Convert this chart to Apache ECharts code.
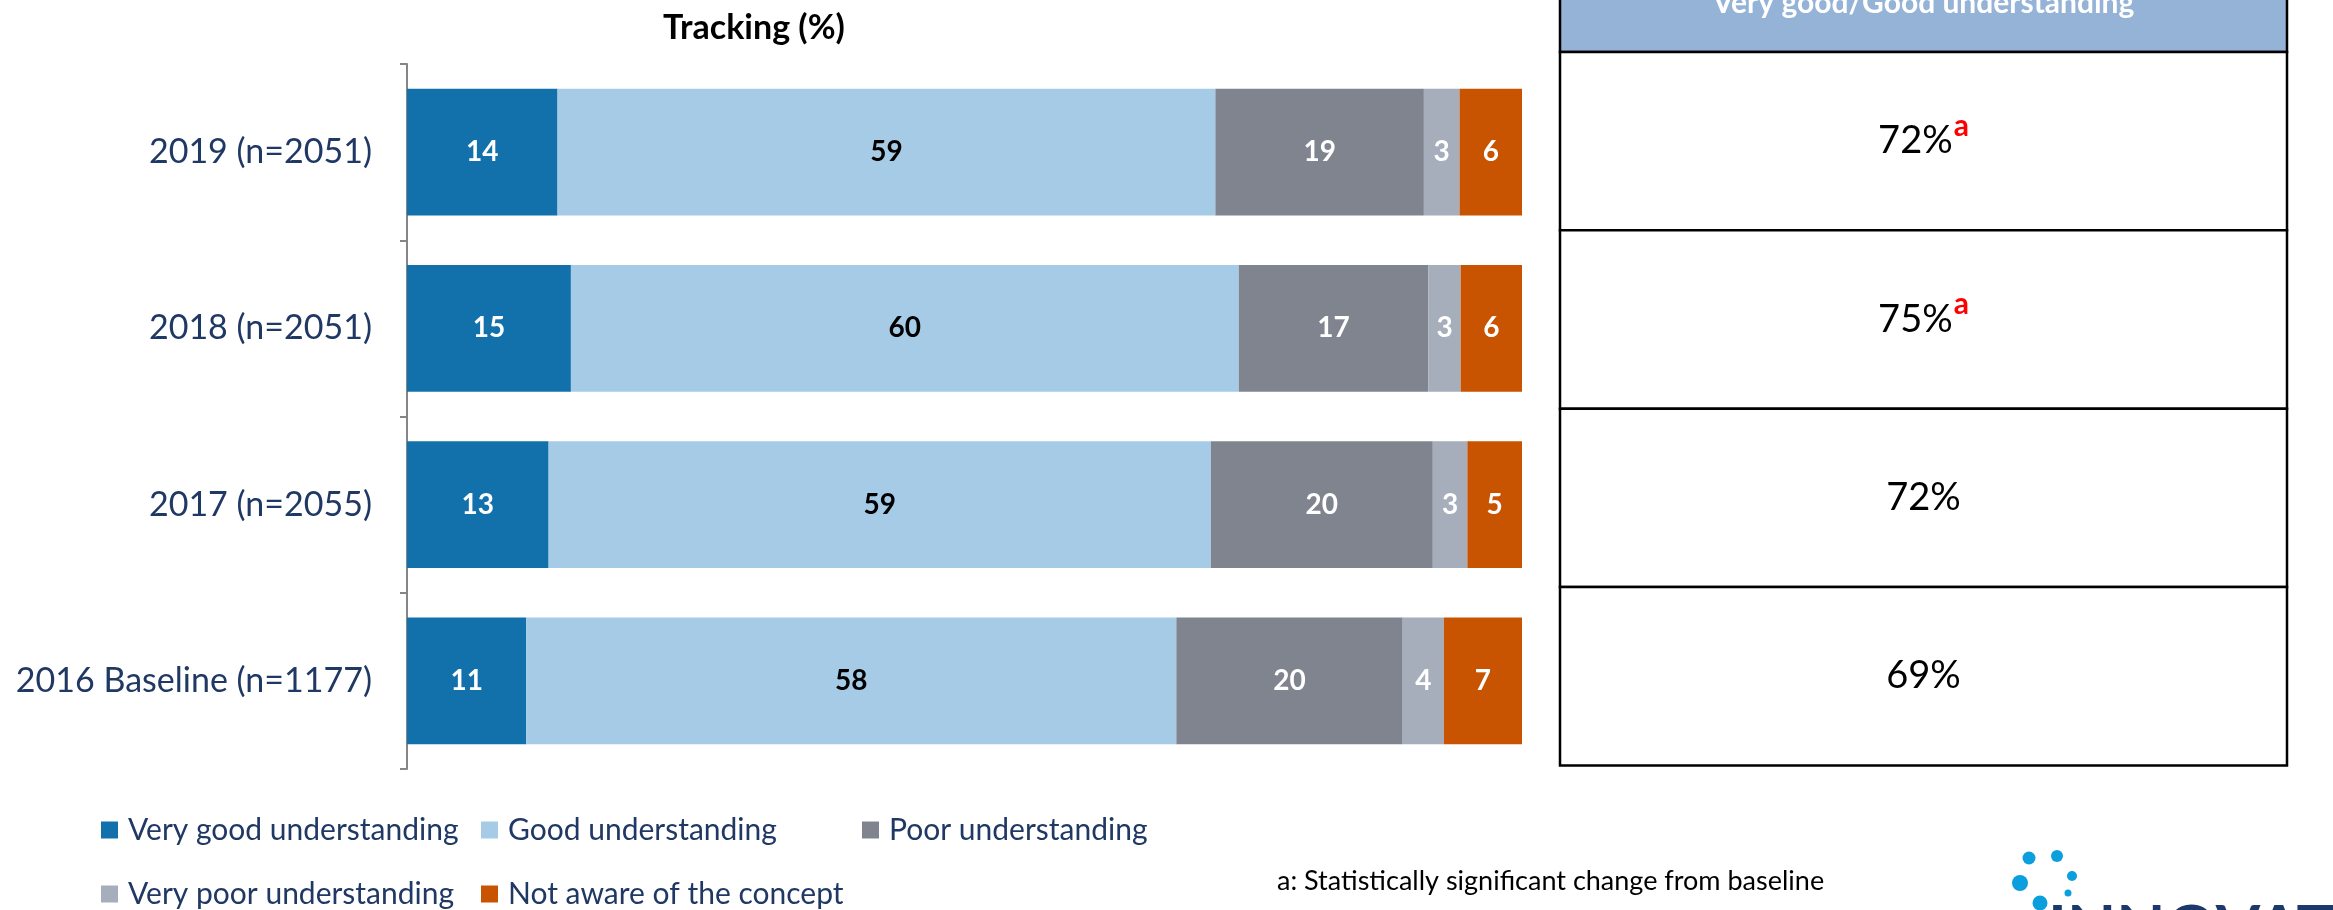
<!DOCTYPE html>
<html>
<head>
<meta charset="utf-8">
<script src="https://cdn.jsdelivr.net/npm/echarts@6/dist/echarts.min.js"></script>
<style>
  html, body { margin: 0; padding: 0; background: #fff; }
  #main { width: 2333px; height: 910px; }
</style>
</head>
<body>
<div id="main"></div>
<script>
var myChart = echarts.init(document.getElementById('main'));

var categories = ['2019 (n=2051)', '2018 (n=2051)', '2017 (n=2055)', '2016 Baseline (n=1177)'];
var seriesNames = ['Very good understanding', 'Good understanding', 'Poor understanding', 'Very poor understanding', 'Not aware of the concept'];
var veryGood = [13.5, 14.7, 12.7, 10.7];
var good = [59.0, 59.9, 59.4, 58.3];
var poor = [18.7, 17.0, 19.9, 20.3];
var veryPoor = [3.2, 2.9, 3.1, 3.7];
var notAware = [5.6, 5.5, 4.9, 7.0];
// right hand table
var topTwo = [72, 75, 72, 69];
var sigFlag = ['a', 'a', '', ''];

var colors = ['#1270AB', '#A6CBE7', '#7F848F', '#A5AEBA', '#C85300'];
var navy = '#203864';
var font = 'Lato';

function makeSeries(name, data, color, labelColor) {
    return {
        name: name,
        type: 'bar',
        stack: 'all',
        barCategoryGap: '28%',
        itemStyle: { color: color },
        label: {
            show: true,
            position: 'inside',
            color: labelColor,
            fontWeight: 'bold',
            fontSize: 28,
            fontFamily: font,
            formatter: function (p) { return Math.round(p.value); }
        },
        data: data
    };
}

function legendAt(name, left, top) {
    return {
        data: [name],
        left: left,
        top: top,
        padding: 0,
        icon: 'rect',
        itemWidth: 17,
        itemHeight: 17,
        selectedMode: false,
        textStyle: { fontSize: 30, color: navy, fontFamily: font, padding: [0, 0, 0, 5] }
    };
}

option = {
    backgroundColor: '#fff',
    animation: false,
    legend: [
        legendAt(seriesNames[0], 101, 815),
        legendAt(seriesNames[1], 481, 815),
        legendAt(seriesNames[2], 862, 815),
        legendAt(seriesNames[3], 101, 879),
        legendAt(seriesNames[4], 481, 879)
    ],
    grid: {
        left: 407,
        right: 811,
        top: 64,
        bottom: 141
    },
    xAxis: {
        type: 'value',
        min: 0,
        max: 100,
        show: false
    },
    yAxis: {
        type: 'category',
        inverse: true,
        data: categories,
        axisLine: { lineStyle: { color: '#868686', width: 2 } },
        axisTick: { show: true, length: 7, lineStyle: { color: '#868686', width: 2 } },
        axisLabel: { fontSize: 34, color: navy, fontFamily: font, margin: 35 }
    },
    series: [
        makeSeries(seriesNames[0], veryGood, colors[0], '#fff'),
        makeSeries(seriesNames[1], good, colors[1], '#000'),
        makeSeries(seriesNames[2], poor, colors[2], '#fff'),
        makeSeries(seriesNames[3], veryPoor, colors[3], '#fff'),
        makeSeries(seriesNames[4], notAware, colors[4], '#fff')
    ]
};

myChart.setOption(option);

// table on the right, rows follow the category positions
var tableLeft = 1560, tableRight = 2287;
var tableW = tableRight - tableLeft;
var y0 = myChart.convertToPixel({ yAxisIndex: 0 }, categories[0]);
var y1 = myChart.convertToPixel({ yAxisIndex: 0 }, categories[1]);
var rowH = (y1 - y0) * 1.012;
var headTop = y0 - 11 - rowH / 2;
var elements = [];

elements.push({
    type: 'text',
    style: { text: 'Tracking (%)', x: 754, y: 28, align: 'center', verticalAlign: 'middle', fontSize: 34, fontWeight: 'bold', fontFamily: font, fill: '#000' }
});

elements.push({
    type: 'rect',
    shape: { x: tableLeft, y: -20, width: tableW, height: headTop + 20 },
    style: { fill: '#95B3D7', stroke: '#000', lineWidth: 2.5 }
});
elements.push({
    type: 'text',
    style: { text: 'Very good/Good understanding', x: (tableLeft + tableRight) / 2, y: 3, align: 'center', verticalAlign: 'middle', fontSize: 30, fontWeight: 'bold', fontFamily: font, fill: '#fff' }
});

for (var i = 0; i < categories.length; i++) {
    var rowTop = headTop + i * rowH;
    var rowMid = rowTop + rowH / 2;
    elements.push({
        type: 'rect',
        shape: { x: tableLeft, y: rowTop, width: tableW, height: rowH },
        style: { fill: '#fff', stroke: '#000', lineWidth: 2.5 }
    });
    elements.push({
        type: 'text',
        style: {
            x: (tableLeft + tableRight) / 2,
            y: rowMid,
            align: 'center',
            verticalAlign: 'middle',
            text: '{v|' + topTwo[i] + '%}' + (sigFlag[i] ? '{s|' + sigFlag[i] + '}' : ''),
            rich: {
                v: { fontSize: 38, fontFamily: font, fill: '#000' },
                s: { fontSize: 30, fontWeight: 'bold', fontFamily: font, fill: '#FF0000', padding: [0, 0, 30, 1] }
            }
        }
    });
}

elements.push({
    type: 'text',
    style: { text: 'a: Statistically significant change from baseline', x: 1277, y: 881, verticalAlign: 'middle', fontSize: 27, fontFamily: font, fill: '#000' }
});

// logo fragment
var dots = [[2029, 858, 6.5], [2057, 856, 6], [2072, 876, 5], [2020, 883, 8], [2068, 893, 3.5], [2040, 903, 7.5]];
dots.forEach(function (d) {
    elements.push({ type: 'circle', shape: { cx: d[0], cy: d[1], r: d[2] }, style: { fill: '#0C9FDD' } });
});
elements.push({
    type: 'text',
    style: { text: 'INNOVATIVE', x: 2048, y: 898, verticalAlign: 'top', fontSize: 64, fontWeight: 'bold', fontFamily: font, fill: '#1B3A6B' }
});

myChart.setOption({ graphic: { elements: elements } });
</script>
</body>
</html>
